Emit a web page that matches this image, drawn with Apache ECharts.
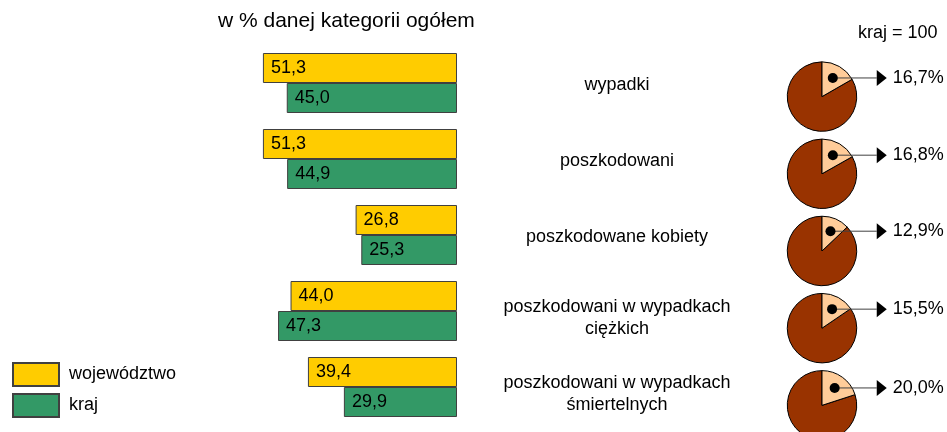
<!DOCTYPE html>
<html>
<head>
<meta charset="utf-8">
<script src="https://cdn.jsdelivr.net/npm/echarts@6/dist/echarts.min.js"></script>
<style>
  html, body { margin: 0; padding: 0; background: #fff; }
  #chart { width: 947px; height: 432px; }
</style>
</head>
<body>
<div id="chart"></div>
<script>
// dane
const categories = [
  'wypadki',
  'poszkodowani',
  'poszkodowane kobiety',
  'poszkodowani w wypadkach\nciężkich',
  'poszkodowani w wypadkach\nśmiertelnych'
]
const wojewodztwo = [51.3, 51.3, 26.8, 44.0, 39.4]
const kraj = [45.0, 44.9, 25.3, 47.3, 29.9]
// udział województwa w kraju (kraj = 100)
const udzial = [16.7, 16.8, 12.9, 15.5, 20.0]

const font = 'Liberation Sans, Arial, sans-serif'
const fmt = v => v.toFixed(1).replace('.', ',')

const chart = echarts.init(document.getElementById('chart'))

function renderPie(params, api) {
  const row = api.value(1)
  const p = api.value(0) / 100
  const cs = params.coordSys
  const cx = cs.x + cs.width / 2
  const cy = api.coord([0, row])[1]
  const r = api.size([0, 1])[1] * 0.45
  const a0 = -Math.PI / 2
  const a1 = a0 + 2 * Math.PI * p
  const mid = (a0 + a1) / 2
  const dx = cx + Math.cos(mid) * r * 0.62
  const dy = cy + Math.sin(mid) * r * 0.62
  const ax = cx + r + 20
  return {
    type: 'group',
    children: [
      {
        type: 'sector',
        shape: { cx: cx, cy: cy, r: r, startAngle: a1, endAngle: a0 + 2 * Math.PI },
        style: { fill: '#993300', stroke: '#000', lineWidth: 1 }
      },
      {
        type: 'sector',
        shape: { cx: cx, cy: cy, r: r, startAngle: a0, endAngle: a1 },
        style: { fill: '#FFCC99', stroke: '#000', lineWidth: 1 }
      },
      {
        type: 'line',
        shape: { x1: dx, y1: dy, x2: ax, y2: dy },
        style: { stroke: '#404040', lineWidth: 1 }
      },
      {
        type: 'circle',
        shape: { cx: dx, cy: dy, r: 5 },
        style: { fill: '#000' }
      },
      {
        type: 'polygon',
        shape: { points: [[ax, dy - 8], [ax + 10, dy], [ax, dy + 8]] },
        style: { fill: '#000' }
      },
      {
        type: 'text',
        style: {
          x: ax + 16,
          y: dy,
          text: fmt(api.value(0)) + '%',
          fontSize: 18,
          fontFamily: font,
          fill: '#000',
          verticalAlign: 'middle',
          align: 'left'
        }
      }
    ]
  }
}

const option = {
  animation: false,
  textStyle: { fontFamily: font },
  graphic: [
    {
      type: 'text',
      left: 218,
      top: 11,
      style: { text: 'w % danej kategorii ogółem', fontSize: 21, fontFamily: font, fill: '#000' }
    },
    {
      type: 'text',
      left: 858,
      top: 24,
      style: { text: 'kraj = 100', fontSize: 18, fontFamily: font, fill: '#000' }
    }
  ],
  legend: {
    orient: 'vertical',
    left: 12,
    top: 362,
    padding: 0,
    itemWidth: 46,
    itemHeight: 23,
    itemGap: 6,
    icon: 'rect',
    textStyle: { fontSize: 18, color: '#000', fontFamily: font, padding: [0, 0, 0, 5] },
    data: ['województwo', 'kraj']
  },
  grid: [
    { left: 230, width: 227, top: 45, height: 380 },
    { left: 787, width: 70, top: 58, height: 374 }
  ],
  xAxis: [
    { type: 'value', gridIndex: 0, min: 0, max: 60, inverse: true, show: false },
    { type: 'value', gridIndex: 1, min: 0, max: 100, show: false }
  ],
  yAxis: [
    {
      type: 'category',
      gridIndex: 0,
      data: categories,
      inverse: true,
      position: 'right',
      axisLine: { show: false },
      axisTick: { show: false },
      splitLine: { show: false },
      axisLabel: {
        margin: 160,
        align: 'center',
        fontSize: 18,
        lineHeight: 22,
        color: '#000',
        fontFamily: font,
        // pusta pierwsza linijka przesuwa etykietę lekko w dół
        formatter: v => {
          const lines = v.split('\n')
          const pad = lines.length === 1 ? '{e1| }' : '{e2| }'
          return [pad].concat(lines.map(l => '{t|' + l + '}')).join('\n')
        },
        rich: {
          e1: { fontSize: 4, lineHeight: 4 },
          e2: { fontSize: 14, lineHeight: 15 },
          t: { fontSize: 18, lineHeight: 22, fontFamily: font, color: '#000' }
        }
      }
    },
    {
      type: 'value',
      gridIndex: 1,
      min: -0.5,
      max: 4.345,
      inverse: true,
      show: false
    }
  ],
  series: [
    {
      name: 'województwo',
      type: 'bar',
      xAxisIndex: 0,
      yAxisIndex: 0,
      data: wojewodztwo,
      barWidth: 30,
      barGap: '0%',
      itemStyle: { color: '#FFCC00', borderColor: '#404040', borderWidth: 1 },
      label: {
        show: true,
        position: 'insideLeft',
        distance: 8,
        fontSize: 18,
        color: '#000',
        fontFamily: font,
        formatter: p => fmt(p.value)
      }
    },
    {
      name: 'kraj',
      type: 'bar',
      xAxisIndex: 0,
      yAxisIndex: 0,
      data: kraj,
      barWidth: 30,
      barGap: '0%',
      itemStyle: { color: '#339966', borderColor: '#404040', borderWidth: 1 },
      label: {
        show: true,
        position: 'insideLeft',
        distance: 8,
        fontSize: 18,
        color: '#000',
        fontFamily: font,
        formatter: p => fmt(p.value)
      }
    },
    {
      name: 'udział',
      type: 'custom',
      xAxisIndex: 1,
      yAxisIndex: 1,
      data: udzial.map((v, i) => [v, i]),
      encode: { x: 0, y: 1 },
      renderItem: renderPie,
      clip: false,
      silent: true
    }
  ]
}

chart.setOption(option)
</script>
</body>
</html>
